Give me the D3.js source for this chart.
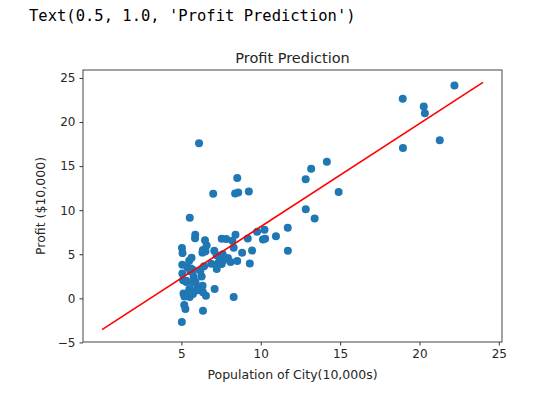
<!DOCTYPE html>
<html>
<head>
<meta charset="utf-8">
<script src="https://cdn.jsdelivr.net/npm/d3@7"></script>
<style>
  body { margin: 0; background: #fff; }
  .header { position: absolute; left: 29px; top: 7px; font-family: "DejaVu Sans Mono", monospace; font-size: 15.5px; color: #000; white-space: pre; }
  svg text { font-family: "DejaVu Sans", sans-serif; fill: #262626; }
</style>
</head>
<body>
<div class="header">Text(0.5, 1.0, 'Profit Prediction')</div>
<svg id="chart"></svg>
<script>
// population of city (10,000s)
var population = [6.1101,5.5277,8.5186,7.0032,5.8598,8.3829,7.4764,8.5781,6.4862,5.0546,
  5.7107,14.164,5.734,8.4084,5.6407,5.3794,6.3654,5.1301,6.4296,7.0708,
  6.1891,20.27,5.4901,6.3261,5.5649,18.945,12.828,10.957,13.176,22.203,
  5.2524,6.5894,9.2482,5.8918,8.2111,7.9334,8.0959,5.6063,12.836,6.3534,
  5.4069,6.8825,11.708,5.7737,7.8247,7.0931,5.0702,5.8014,11.7,5.5416,
  7.5402,5.3077,7.4239,7.6031,6.3328,6.3589,6.2742,5.6397,9.3102,9.4536,
  8.8254,5.1793,21.279,14.908,18.959,7.2182,8.2951,10.236,5.4994,20.341,
  10.136,7.3345,6.0062,7.2259,5.0269,6.5479,7.5386,5.0365,10.274,5.1077,
  5.7292,5.1884,6.3557,9.7687,6.5159,8.5172,9.1802,6.002,5.5204,5.0594,
  5.7077,7.6366,5.8707,5.3054,8.2934,13.394,5.4369];
// profit ($10,000)
var profit = [17.592,9.1302,13.662,11.854,6.8233,11.886,4.3483,12,6.5987,3.8166,
  3.2522,15.505,3.1551,7.2258,0.71618,3.5129,5.3048,0.56077,3.6518,5.3893,
  3.1386,21.767,4.263,5.1875,3.0825,22.638,13.501,7.0467,14.692,24.147,
  -1.22,5.9966,12.134,1.8495,6.5426,4.5623,4.1164,3.3928,10.117,5.4974,
  0.55657,3.9115,5.3854,2.4406,6.7318,1.0463,5.1337,1.844,8.0043,1.0179,
  6.7504,1.8396,4.2885,4.9981,1.4233,-1.4211,2.4756,4.6042,3.9624,5.4141,
  5.1694,-0.74279,17.929,12.054,17.054,4.8852,5.7442,7.7754,1.0173,20.992,
  6.6799,4.0259,1.2784,3.3411,-2.6807,0.29678,3.8845,5.7014,6.7526,2.0576,
  0.47953,0.20421,0.67861,7.5435,5.3436,4.2415,6.7981,0.92695,0.152,2.8214,
  1.8451,4.2959,7.2029,1.9869,0.14454,9.0551,0.61705];
// fitted line endpoints
var lineX = [0, 24];
var lineY = [-3.55, 24.5];

var xTicks = [5, 10, 15, 20, 25];
var yTicks = [-5, 0, 5, 10, 15, 20, 25];

var W = 536, H = 397;
var margin = {top: 70, right: 34, bottom: 55, left: 83};
var width = W - margin.left - margin.right,
    height = H - margin.top - margin.bottom;

var points = population.map(function(p, i) { return {x: p, y: profit[i]}; });
var fit = lineX.map(function(x, i) { return {x: x, y: lineY[i]}; });

// matplotlib-style 5% margins on the data limits
function pad(ext) { var d = (ext[1] - ext[0]) * 0.05; return [ext[0] - d, ext[1] + d]; }
var xExt = d3.extent(population.concat(lineX)),
    yExt = d3.extent(profit.concat(lineY));

var xScale = d3.scaleLinear().domain(pad(xExt)).range([0, width]);
var yScale = d3.scaleLinear().domain(pad(yExt)).range([height, 0]);

var fmt = function(d) { return d < 0 ? "\u2212" + Math.abs(d) : String(d); };

var svg = d3.select("#chart")
    .attr("width", W)
    .attr("height", H)
  .append("g")
    .attr("transform", "translate(" + margin.left + "," + margin.top + ")");

// axes
var xAxis = svg.append("g")
    .attr("transform", "translate(0," + height + ")")
    .call(d3.axisBottom(xScale).tickValues(xTicks).tickFormat(fmt).tickSize(3.5).tickPadding(4));
var yAxis = svg.append("g")
    .call(d3.axisLeft(yScale).tickValues(yTicks).tickFormat(fmt).tickSize(3.5).tickPadding(4));
[xAxis, yAxis].forEach(function(a) {
  a.select(".domain").remove();
  a.selectAll("line").attr("stroke", "#333");
  a.selectAll("text").attr("font-size", 12).attr("font-family", "DejaVu Sans, sans-serif").attr("fill", "#262626");
});

// scatter
svg.selectAll(".dot")
    .data(points)
  .enter().append("circle")
    .attr("class", "dot")
    .attr("cx", function(d) { return xScale(d.x); })
    .attr("cy", function(d) { return yScale(d.y); })
    .attr("r", 4)
    .style("fill", "#1f77b4");

// prediction line
svg.append("path")
    .datum(fit)
    .attr("d", d3.line().x(function(d) { return xScale(d.x); }).y(function(d) { return yScale(d.y); }))
    .attr("fill", "none")
    .attr("stroke", "red")
    .attr("stroke-width", 1.6);

// frame
svg.append("rect")
    .attr("x", 0).attr("y", 0)
    .attr("width", width).attr("height", height)
    .attr("fill", "none")
    .attr("stroke", "#444")
    .attr("stroke-width", 1);

// title and labels
svg.append("text")
    .attr("x", width / 2).attr("y", -7)
    .attr("text-anchor", "middle")
    .attr("font-size", 14.5)
    .text("Profit Prediction");
svg.append("text")
    .attr("x", width / 2).attr("y", height + 37)
    .attr("text-anchor", "middle")
    .attr("font-size", 12.5)
    .text("Population of City(10,000s)");
svg.append("text")
    .attr("transform", "translate(" + (-38) + "," + (height / 2) + ") rotate(-90)")
    .attr("text-anchor", "middle")
    .attr("font-size", 12.5)
    .text("Profit ($10,000)");
</script>
</body>
</html>
